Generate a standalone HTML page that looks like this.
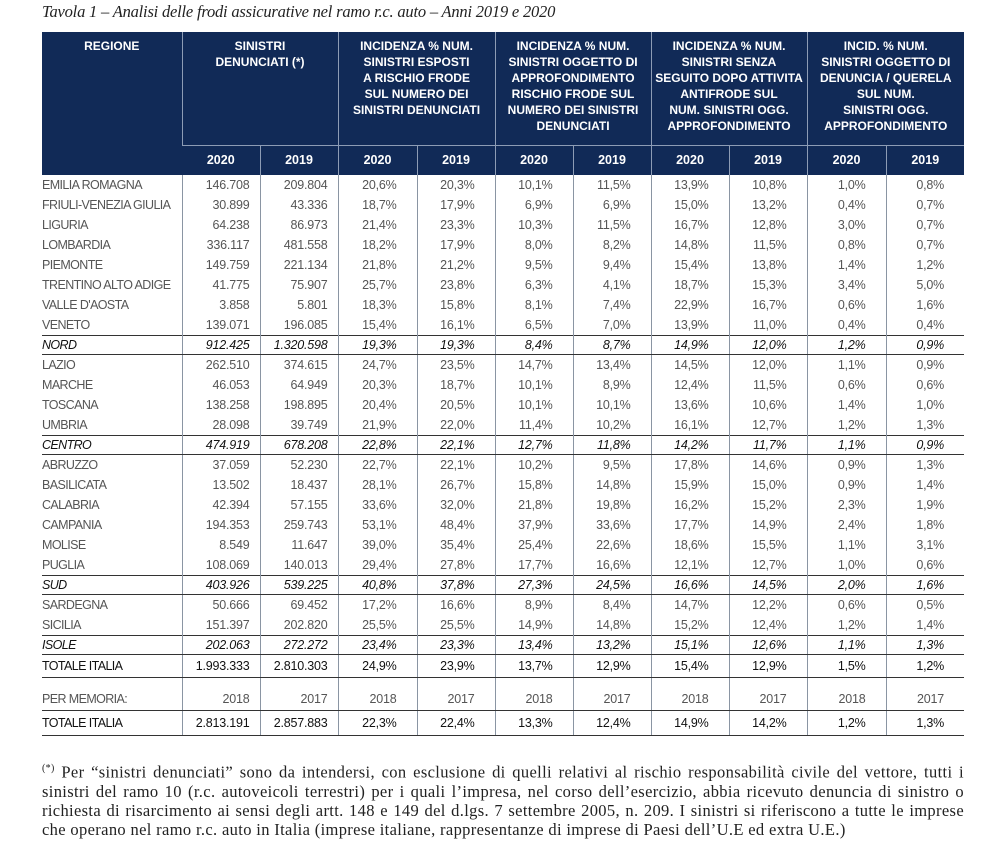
<!DOCTYPE html>
<html><head><meta charset="utf-8">
<style>
body{margin:0;background:#fff;width:1006px;height:860px;position:relative;overflow:hidden}
.title{position:absolute;left:42px;top:2px;font:italic 16.5px "Liberation Serif",serif;color:#222;letter-spacing:-0.2px}
table{position:absolute;left:42px;top:32px;border-collapse:collapse;table-layout:fixed;width:922px;font-family:"Liberation Sans",sans-serif}
th{background:#112a57;color:#fff;font-weight:bold;font-size:12px;line-height:16px;vertical-align:top;text-align:center;border-left:1px solid #8d9cb5;padding:0}
th:first-child{border-left:none}
tr.h1 th{height:113px;padding-top:6px;box-sizing:border-box}
tr.h2 th{height:29px;font-size:12.5px;vertical-align:middle;border-top:1px solid #8d9cb5}
td{height:20px;padding:0 20px 0 0;font-size:12.5px;color:#555;text-align:right;border-left:1px solid #8a95a3;white-space:nowrap;letter-spacing:-0.2px;line-height:16px}
td:first-child{border-left:none;text-align:left;padding:0;font-size:12.5px;letter-spacing:-0.6px}
td.n{padding-right:10px}
tr.g td{height:18px;font-style:italic;color:#111;border-top:1px solid #333;border-bottom:1px solid #333}
tr.t td{height:22px;color:#111;border-bottom:1px solid #333}
tr.gap td{height:29px;vertical-align:bottom;color:#555;border-bottom:1px solid #333;padding-bottom:3px}
tr.gap td:first-child{padding-bottom:3px}
tr.t2 td{height:24px;color:#111;border-bottom:1px solid #333}
.foot{position:absolute;left:42px;top:759px;width:922px;font:16.5px/19px "Liberation Serif",serif;color:#222;letter-spacing:0.35px}
.foot div{text-align:justify;text-align-last:justify;white-space:nowrap}
.foot div.last{text-align-last:left}
sup{font-size:10px}
</style></head><body>
<div class="title">Tavola 1 – Analisi delle frodi assicurative nel ramo r.c. auto – Anni 2019 e 2020</div>
<table>
<colgroup><col style="width:140px"><col style="width:78px"><col style="width:78px"><col style="width:79px"><col style="width:78px"><col style="width:78px"><col style="width:78px"><col style="width:78px"><col style="width:78px"><col style="width:79px"><col style="width:78px"></colgroup>
<tr class="h1"><th rowspan="2">REGIONE</th><th colspan="2">SINISTRI<br>DENUNCIATI (*)</th><th colspan="2">INCIDENZA % NUM.<br>SINISTRI ESPOSTI<br>A RISCHIO FRODE<br>SUL NUMERO DEI<br>SINISTRI DENUNCIATI</th><th colspan="2">INCIDENZA % NUM.<br>SINISTRI OGGETTO DI<br>APPROFONDIMENTO<br>RISCHIO FRODE SUL<br>NUMERO DEI SINISTRI<br>DENUNCIATI</th><th colspan="2">INCIDENZA % NUM.<br>SINISTRI SENZA<br>SEGUITO DOPO ATTIVITA<br>ANTIFRODE SUL<br>NUM. SINISTRI OGG.<br>APPROFONDIMENTO</th><th colspan="2">INCID. % NUM.<br>SINISTRI OGGETTO DI<br>DENUNCIA / QUERELA<br>SUL NUM.<br>SINISTRI OGG.<br>APPROFONDIMENTO</th></tr>
<tr class="h2"><th>2020</th><th>2019</th><th>2020</th><th>2019</th><th>2020</th><th>2019</th><th>2020</th><th>2019</th><th>2020</th><th>2019</th></tr>
<tr><td>EMILIA ROMAGNA</td><td class="n">146.708</td><td class="n">209.804</td><td>20,6%</td><td>20,3%</td><td>10,1%</td><td>11,5%</td><td>13,9%</td><td>10,8%</td><td>1,0%</td><td>0,8%</td></tr>
<tr><td>FRIULI-VENEZIA GIULIA</td><td class="n">30.899</td><td class="n">43.336</td><td>18,7%</td><td>17,9%</td><td>6,9%</td><td>6,9%</td><td>15,0%</td><td>13,2%</td><td>0,4%</td><td>0,7%</td></tr>
<tr><td>LIGURIA</td><td class="n">64.238</td><td class="n">86.973</td><td>21,4%</td><td>23,3%</td><td>10,3%</td><td>11,5%</td><td>16,7%</td><td>12,8%</td><td>3,0%</td><td>0,7%</td></tr>
<tr><td>LOMBARDIA</td><td class="n">336.117</td><td class="n">481.558</td><td>18,2%</td><td>17,9%</td><td>8,0%</td><td>8,2%</td><td>14,8%</td><td>11,5%</td><td>0,8%</td><td>0,7%</td></tr>
<tr><td>PIEMONTE</td><td class="n">149.759</td><td class="n">221.134</td><td>21,8%</td><td>21,2%</td><td>9,5%</td><td>9,4%</td><td>15,4%</td><td>13,8%</td><td>1,4%</td><td>1,2%</td></tr>
<tr><td>TRENTINO ALTO ADIGE</td><td class="n">41.775</td><td class="n">75.907</td><td>25,7%</td><td>23,8%</td><td>6,3%</td><td>4,1%</td><td>18,7%</td><td>15,3%</td><td>3,4%</td><td>5,0%</td></tr>
<tr><td>VALLE D'AOSTA</td><td class="n">3.858</td><td class="n">5.801</td><td>18,3%</td><td>15,8%</td><td>8,1%</td><td>7,4%</td><td>22,9%</td><td>16,7%</td><td>0,6%</td><td>1,6%</td></tr>
<tr><td>VENETO</td><td class="n">139.071</td><td class="n">196.085</td><td>15,4%</td><td>16,1%</td><td>6,5%</td><td>7,0%</td><td>13,9%</td><td>11,0%</td><td>0,4%</td><td>0,4%</td></tr>
<tr class="g"><td>NORD</td><td class="n">912.425</td><td class="n">1.320.598</td><td>19,3%</td><td>19,3%</td><td>8,4%</td><td>8,7%</td><td>14,9%</td><td>12,0%</td><td>1,2%</td><td>0,9%</td></tr>
<tr><td>LAZIO</td><td class="n">262.510</td><td class="n">374.615</td><td>24,7%</td><td>23,5%</td><td>14,7%</td><td>13,4%</td><td>14,5%</td><td>12,0%</td><td>1,1%</td><td>0,9%</td></tr>
<tr><td>MARCHE</td><td class="n">46.053</td><td class="n">64.949</td><td>20,3%</td><td>18,7%</td><td>10,1%</td><td>8,9%</td><td>12,4%</td><td>11,5%</td><td>0,6%</td><td>0,6%</td></tr>
<tr><td>TOSCANA</td><td class="n">138.258</td><td class="n">198.895</td><td>20,4%</td><td>20,5%</td><td>10,1%</td><td>10,1%</td><td>13,6%</td><td>10,6%</td><td>1,4%</td><td>1,0%</td></tr>
<tr><td>UMBRIA</td><td class="n">28.098</td><td class="n">39.749</td><td>21,9%</td><td>22,0%</td><td>11,4%</td><td>10,2%</td><td>16,1%</td><td>12,7%</td><td>1,2%</td><td>1,3%</td></tr>
<tr class="g"><td>CENTRO</td><td class="n">474.919</td><td class="n">678.208</td><td>22,8%</td><td>22,1%</td><td>12,7%</td><td>11,8%</td><td>14,2%</td><td>11,7%</td><td>1,1%</td><td>0,9%</td></tr>
<tr><td>ABRUZZO</td><td class="n">37.059</td><td class="n">52.230</td><td>22,7%</td><td>22,1%</td><td>10,2%</td><td>9,5%</td><td>17,8%</td><td>14,6%</td><td>0,9%</td><td>1,3%</td></tr>
<tr><td>BASILICATA</td><td class="n">13.502</td><td class="n">18.437</td><td>28,1%</td><td>26,7%</td><td>15,8%</td><td>14,8%</td><td>15,9%</td><td>15,0%</td><td>0,9%</td><td>1,4%</td></tr>
<tr><td>CALABRIA</td><td class="n">42.394</td><td class="n">57.155</td><td>33,6%</td><td>32,0%</td><td>21,8%</td><td>19,8%</td><td>16,2%</td><td>15,2%</td><td>2,3%</td><td>1,9%</td></tr>
<tr><td>CAMPANIA</td><td class="n">194.353</td><td class="n">259.743</td><td>53,1%</td><td>48,4%</td><td>37,9%</td><td>33,6%</td><td>17,7%</td><td>14,9%</td><td>2,4%</td><td>1,8%</td></tr>
<tr><td>MOLISE</td><td class="n">8.549</td><td class="n">11.647</td><td>39,0%</td><td>35,4%</td><td>25,4%</td><td>22,6%</td><td>18,6%</td><td>15,5%</td><td>1,1%</td><td>3,1%</td></tr>
<tr><td>PUGLIA</td><td class="n">108.069</td><td class="n">140.013</td><td>29,4%</td><td>27,8%</td><td>17,7%</td><td>16,6%</td><td>12,1%</td><td>12,7%</td><td>1,0%</td><td>0,6%</td></tr>
<tr class="g"><td>SUD</td><td class="n">403.926</td><td class="n">539.225</td><td>40,8%</td><td>37,8%</td><td>27,3%</td><td>24,5%</td><td>16,6%</td><td>14,5%</td><td>2,0%</td><td>1,6%</td></tr>
<tr><td>SARDEGNA</td><td class="n">50.666</td><td class="n">69.452</td><td>17,2%</td><td>16,6%</td><td>8,9%</td><td>8,4%</td><td>14,7%</td><td>12,2%</td><td>0,6%</td><td>0,5%</td></tr>
<tr><td>SICILIA</td><td class="n">151.397</td><td class="n">202.820</td><td>25,5%</td><td>25,5%</td><td>14,9%</td><td>14,8%</td><td>15,2%</td><td>12,4%</td><td>1,2%</td><td>1,4%</td></tr>
<tr class="g"><td>ISOLE</td><td class="n">202.063</td><td class="n">272.272</td><td>23,4%</td><td>23,3%</td><td>13,4%</td><td>13,2%</td><td>15,1%</td><td>12,6%</td><td>1,1%</td><td>1,3%</td></tr>
<tr class="t"><td>TOTALE ITALIA</td><td class="n">1.993.333</td><td class="n">2.810.303</td><td>24,9%</td><td>23,9%</td><td>13,7%</td><td>12,9%</td><td>15,4%</td><td>12,9%</td><td>1,5%</td><td>1,2%</td></tr>
<tr class="gap"><td>PER MEMORIA:</td><td class="n">2018</td><td class="n">2017</td><td>2018</td><td>2017</td><td>2018</td><td>2017</td><td>2018</td><td>2017</td><td>2018</td><td>2017</td></tr>
<tr class="t2"><td>TOTALE ITALIA</td><td class="n">2.813.191</td><td class="n">2.857.883</td><td>22,3%</td><td>22,4%</td><td>13,3%</td><td>12,4%</td><td>14,9%</td><td>14,2%</td><td>1,2%</td><td>1,3%</td></tr>
</table>
<div class="foot">
<div><sup>(*)</sup> Per “sinistri denunciati” sono da intendersi, con esclusione di quelli relativi al rischio responsabilità civile del vettore, tutti i</div>
<div>sinistri del ramo 10 (r.c. autoveicoli terrestri) per i quali l’impresa, nel corso dell’esercizio, abbia ricevuto denuncia di sinistro o</div>
<div>richiesta di risarcimento ai sensi degli artt. 148 e 149 del d.lgs. 7 settembre 2005, n. 209. I sinistri si riferiscono a tutte le imprese</div>
<div class="last">che operano nel ramo r.c. auto in Italia (imprese italiane, rappresentanze di imprese di Paesi dell’U.E ed extra U.E.)</div>
</div>
</body></html>
